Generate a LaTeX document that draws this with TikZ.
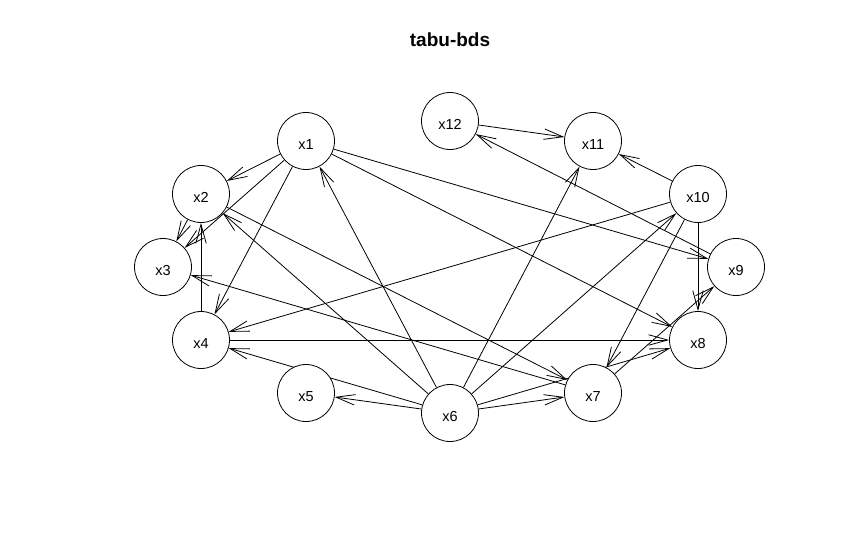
\documentclass[tikz,border=0pt]{standalone}
\usepackage{fontspec}
\setmainfont{Liberation Sans}
\usetikzlibrary{arrows.meta,backgrounds}
\begin{document}
\begin{tikzpicture}[x=1pt,y=-1pt,
  bnnode/.style={circle,draw,fill=white,minimum size=57pt,inner sep=0pt,line width=0.8pt,
    font=\fontsize{14.5}{17}\selectfont,text height=16.5pt,text depth=0pt},
  arc/.style={line width=0.8pt,-{Straight Barb[length=19pt,width=10.5pt]}},
  titlestyle/.style={font=\fontsize{19}{22}\selectfont\bfseries}]
\useasboundingbox (0,0) rectangle (862,555);
\node[titlestyle] (title) at (450,40) {tabu-bds};
\node[bnnode] (x1) at (306,141) {x1};
\node[bnnode] (x2) at (201,194) {x2};
\node[bnnode] (x3) at (163,267) {x3};
\node[bnnode] (x4) at (201,340) {x4};
\node[bnnode] (x5) at (306,393) {x5};
\node[bnnode] (x6) at (450,413) {x6};
\node[bnnode] (x7) at (593,393) {x7};
\node[bnnode] (x8) at (698,340) {x8};
\node[bnnode] (x9) at (736,267) {x9};
\node[bnnode] (x10) at (698,194) {x10};
\node[bnnode] (x11) at (593,141) {x11};
\node[bnnode] (x12) at (450,121) {x12};
\begin{scope}[on background layer]
\fill[white] (0,0) rectangle (862,555);
\draw[arc] (x1) -- (x2);
\draw[arc] (x1) -- (x3);
\draw[arc] (x1) -- (x4);
\draw[arc] (x1) -- (x8);
\draw[arc] (x1) -- (x9);
\draw[arc] (x2) -- (x3);
\draw[arc] (x2) -- (x7);
\draw[arc] (x4) -- (x2);
\draw[arc] (x4) -- (x8);
\draw[arc] (x6) -- (x1);
\draw[arc] (x6) -- (x2);
\draw[arc] (x6) -- (x4);
\draw[arc] (x6) -- (x5);
\draw[arc] (x6) -- (x7);
\draw[arc] (x6) -- (x8);
\draw[arc] (x6) -- (x10);
\draw[arc] (x6) -- (x11);
\draw[arc] (x7) -- (x3);
\draw[arc] (x7) -- (x9);
\draw[arc] (x9) -- (x12);
\draw[arc] (x10) -- (x4);
\draw[arc] (x10) -- (x7);
\draw[arc] (x10) -- (x8);
\draw[arc] (x10) -- (x11);
\draw[arc] (x12) -- (x11);
\end{scope}
\end{tikzpicture}
\end{document}
